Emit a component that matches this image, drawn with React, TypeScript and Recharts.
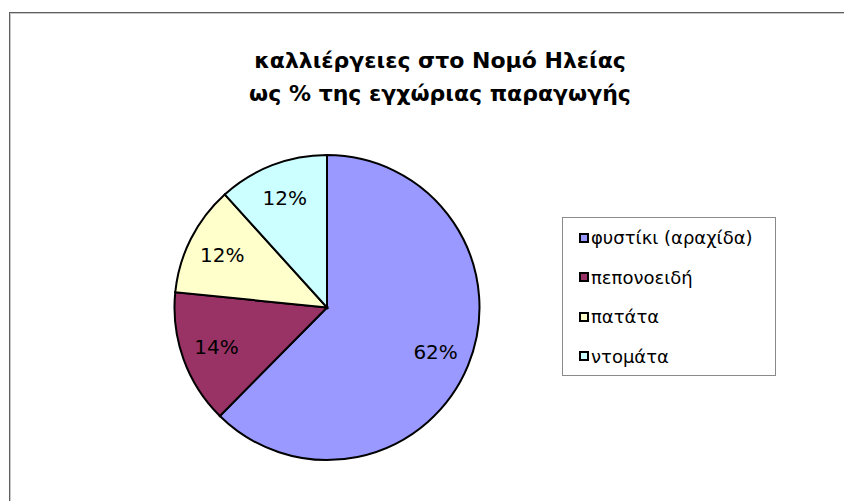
import { PieChart, Pie, Cell, Legend } from 'recharts';

const categories = ['φυστίκι (αραχίδα)', 'πεπονοειδή', 'πατάτα', 'ντομάτα'];
const shares = [62.4, 14.2, 11.7, 11.7];
const percentLabels = ['62%', '14%', '12%', '12%'];
const colors = ['#9999FF', '#993366', '#FFFFCC', '#CCFFFF'];
const titleLines = ['καλλιέργειες στο Νομό Ηλείας', 'ως % της εγχώριας παραγωγής'];

const FONT = '"DejaVu Sans", Verdana, sans-serif';
const RAD = Math.PI / 180;

const data = categories.map((name, i) => ({
  name,
  value: shares[i],
  label: percentLabels[i]
}));

// percentage inside each slice
const renderLabel = ({ cx, cy, midAngle, outerRadius, index }: any) => {
  const r = outerRadius * 0.77;
  const x = cx + r * Math.cos(-midAngle * RAD);
  const y = cy + r * Math.sin(-midAngle * RAD);
  return (
    <text
      x={x}
      y={y}
      textAnchor="middle"
      dominantBaseline="central"
      fill="#000"
      fontSize={20}
      fontFamily={FONT}
    >
      {data[index].label}
    </text>
  );
};

// legend keeps the series order of the data
const LegendBox = () => {
  return (
    <div
      style={{
        width: 214,
        height: 159,
        boxSizing: 'border-box',
        border: '1px solid #8a8a8a',
        background: '#fff',
        paddingTop: 0,
        paddingLeft: 16
      }}
    >
      {data.map((d, i) => (
        <div
          key={d.name}
          style={{
            display: 'flex',
            alignItems: 'center',
            height: 39.5,
            fontFamily: FONT,
            fontSize: 18,
            color: '#000',
            whiteSpace: 'nowrap'
          }}
        >
          <span
            style={{
              display: 'inline-block',
              width: 6,
              height: 6,
              border: '2px solid #000',
              background: colors[i],
              marginRight: 2
            }}
          />
          {d.name}
        </div>
      ))}
    </div>
  );
};

const App = () => {
  return (
    <div style={{ position: 'relative', width: 844, height: 493, overflow: 'hidden', background: '#fff' }}>
      <div
        style={{
          position: 'absolute',
          left: 1,
          top: 4,
          width: 1000,
          height: 700,
          borderTop: '1px solid #5f5f5f',
          borderLeft: '1px solid #5f5f5f',
          boxShadow: 'inset 1px 1px 0 #c8c8c8'
        }}
      />
      {titleLines.map((line, i) => (
        <div
          key={i}
          style={{
            position: 'absolute',
            left: 0,
            width: 864,
            top: 40 + i * 33,
            textAlign: 'center',
            fontFamily: FONT,
            fontWeight: 'bold',
            fontSize: 22,
            lineHeight: '26px',
            color: '#000'
          }}
        >
          {line}
        </div>
      ))}
      <div style={{ position: 'absolute', left: 0, top: 0 }}>
        <PieChart width={844} height={493} margin={{ top: 0, right: 0, bottom: 0, left: 0 }}>
          <Pie
            data={data}
            dataKey="value"
            nameKey="name"
            cx={319}
            cy={299.5}
            outerRadius={152.5}
            startAngle={90}
            endAngle={-270}
            stroke="#000"
            strokeWidth={2}
            label={renderLabel}
            labelLine={false}
            isAnimationActive={false}
          >
            {data.map((d, i) => (
              <Cell key={d.name} fill={colors[i]} />
            ))}
          </Pie>
          <Legend
            layout="vertical"
            content={<LegendBox />}
            wrapperStyle={{ left: 554, top: 209, width: 214, height: 159 }}
          />
        </PieChart>
      </div>
    </div>
  );
};

export default App;
